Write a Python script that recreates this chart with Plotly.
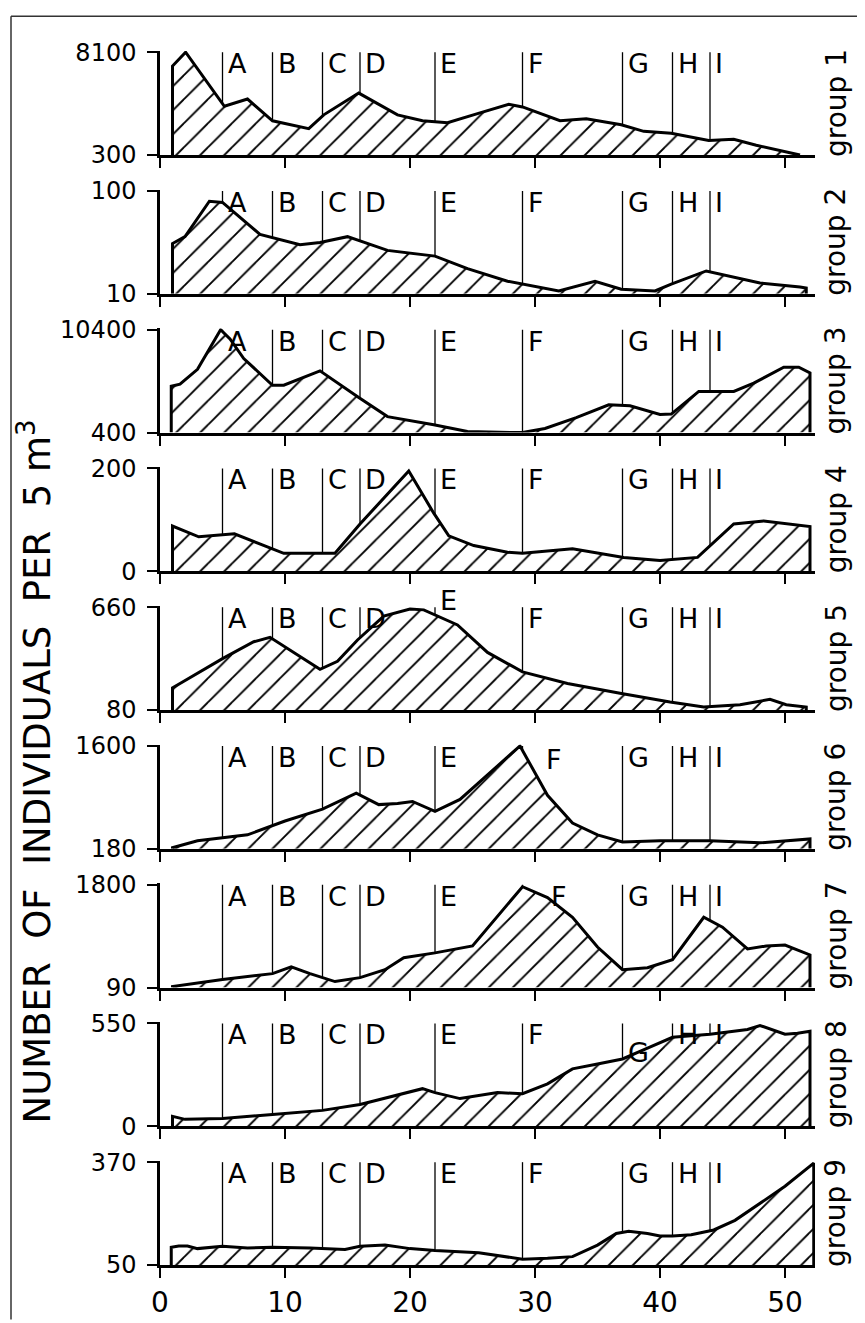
import numpy as np
import plotly.graph_objects as go

# ---------------- data ----------------
group_names = ["group 1", "group 2", "group 3", "group 4", "group 5",
               "group 6", "group 7", "group 8", "group 9"]
horizon_names = ["A", "B", "C", "D", "E", "F", "G", "H", "I"]
horizon_x = [5, 9, 13, 16, 22, 29, 37, 41, 44]
y_min = [300, 10, 400, 0, 80, 180, 90, 0, 50]
y_max = [8100, 100, 10400, 200, 660, 1600, 1800, 550, 370]
x_ticks = [0, 10, 20, 30, 40, 50]

g1_x = [1.0, 2.05, 5.15, 7.0, 9.0, 11.9, 13.1, 15.9, 19.0, 21.0, 23.0, 25.6, 27.9, 29.0,
        32.0, 34.1, 36.9, 38.7, 40.9, 43.9, 45.9, 47.7, 51.2]
g1_y = [7050, 8100, 4000, 4550, 2900, 2300, 3350, 5000, 3350, 2900, 2750, 3500, 4150, 3950,
        2900, 3050, 2600, 2100, 1950, 1400, 1500, 1050, 300]

g2_x = [1.0, 2.0, 3.95, 5.0, 8.0, 11.2, 12.8, 15.0, 18.2, 22.0, 24.6, 27.8, 29.0, 31.9,
        34.8, 36.9, 39.6, 40.9, 43.7, 48.0, 51.2, 51.7]
g2_y = [54, 60, 91, 90, 62, 53, 55, 60, 48, 43, 32, 21, 18.5, 12.5,
        21, 14, 12.5, 18.5, 30, 19.5, 16, 15]

g3_x = [0.9, 1.6, 3.0, 4.85, 5.6, 6.7, 9.0, 9.9, 12.8, 15.9, 18.2, 21.9, 24.6, 28.0, 29.0,
        30.8, 33.3, 35.9, 37.6, 40.0, 40.9, 43.1, 45.9, 47.5, 49.9, 51.1, 52.0]
g3_y = [4900, 5100, 6550, 10400, 9500, 7600, 5000, 5000, 6400, 3800, 1950, 1150, 500, 400, 400,
        800, 1850, 3100, 3000, 2150, 2200, 4400, 4400, 5200, 6750, 6750, 6200]

g4_x = [1.0, 3.1, 5.95, 9.9, 14.0, 16.0, 19.9, 21.9, 23.1, 25.1, 27.8, 29.0, 33.0, 37.1,
        40.0, 43.0, 45.9, 48.3, 52.0]
g4_y = [88, 67, 73, 35, 35, 92, 195, 113, 69, 50, 37, 35, 44, 27,
        21, 27, 92, 98, 87]

g5_x = [1.0, 1.6, 5.0, 7.5, 8.8, 12.8, 14.2, 15.8, 17.9, 20.0, 21.1, 23.8, 26.2, 29.0,
        32.6, 36.8, 40.8, 43.5, 46.4, 48.8, 50.1, 51.7]
g5_y = [205, 230, 370, 465, 490, 310, 355, 475, 610, 650, 645, 560, 405, 295,
        230, 175, 125, 97, 110, 140, 110, 97]

g6_x = [1.0, 3.0, 5.0, 7.0, 10.0, 13.0, 15.7, 17.5, 19.0, 20.2, 22.0, 24.0, 28.8, 31.0,
        33.0, 35.0, 37.0, 40.0, 44.0, 48.0, 52.0]
g6_y = [194, 290, 330, 372, 563, 727, 947, 790, 805, 833, 698, 862, 1600, 918,
        535, 372, 275, 290, 290, 262, 316]

g7_x = [1.0, 5.0, 9.0, 10.5, 12.0, 14.0, 16.0, 18.0, 19.5, 22.0, 25.0, 29.0, 31.0, 33.0,
        35.0, 37.0, 39.0, 41.0, 43.5, 45.0, 47.0, 48.5, 50.0, 52.0]
g7_y = [107, 222, 321, 432, 321, 189, 254, 386, 586, 666, 781, 1766, 1586, 1258,
        764, 386, 418, 552, 1258, 1094, 731, 781, 797, 632]

g8_x = [1.0, 2.0, 5.0, 9.0, 13.0, 16.0, 19.0, 21.0, 22.0, 24.0, 27.0, 29.0, 31.0, 33.0,
        35.0, 37.0, 39.0, 41.0, 44.0, 47.0, 48.0, 50.0, 51.0, 52.0]
g8_y = [53, 37, 42, 63, 85, 116, 165, 201, 180, 148, 180, 174, 227, 307,
        333, 360, 418, 476, 492, 518, 539, 492, 497, 508]

g9_x = [0.9, 1.5, 2.2, 3.0, 5.0, 7.0, 9.0, 12.0, 14.8, 16.0, 18.0, 20.0, 22.0, 25.5, 27.5,
        29.0, 31.0, 33.0, 35.0, 36.5, 37.5, 39.0, 40.0, 41.0, 42.5, 44.3, 46.0, 48.0, 50.0, 52.3]
g9_y = [105, 109, 109, 101, 108, 103, 105, 103, 98, 108, 112, 101, 95, 88, 76,
        68, 71, 76, 112, 148, 155, 148, 140, 140, 144, 159, 189, 242, 295, 367]

series_x = [g1_x, g2_x, g3_x, g4_x, g5_x, g6_x, g7_x, g8_x, g9_x]
series_y = [g1_y, g2_y, g3_y, g4_y, g5_y, g6_y, g7_y, g8_y, g9_y]

# ---------------- layout geometry ----------------
W, H = 865, 1323
ML, MR, MT, MB = 152, 58, 43, 55
PW, PH = W - ML - MR, H - MT - MB
PITCH, PANEL_H = 140, 105
XMAX = 52.4
FONT = "DejaVu Sans"

def paper_y(px):
    return 1 - (px - MT) / PH

def paper_x(px):
    return (px - ML) / PW

# letter label adjustments (panel index, letter) -> (dx in x units, dy in px)
label_adjust = {
    (4, "E"): (0.0, 18),
    (5, "F"): (1.5, -2),
    (6, "F"): (1.9, 0),
    (7, "G"): (0.0, -18),
}

fig = go.Figure()
layout = dict()
annotations = []
shapes = []

for i in range(9):
    top = MT + PITCH * i
    bot = top + PANEL_H
    sfx = "" if i == 0 else str(i + 1)
    xs, ys = series_x[i], series_y[i]
    lo, hi = y_min[i], y_max[i]
    poly_x = [xs[0]] + list(xs) + [xs[-1]]
    poly_y = [lo] + list(ys) + [lo]
    fig.add_trace(go.Scatter(
        x=poly_x, y=poly_y, xaxis="x" + sfx, yaxis="y" + sfx,
        mode="lines", fill="toself", fillcolor="white",
        fillpattern=dict(shape="/", size=17, solidity=0.11,
                         fgcolor="black", bgcolor="white", fgopacity=1),
        line=dict(color="black", width=3),
        hoverinfo="skip", showlegend=False))

    layout["xaxis" + sfx] = dict(
        domain=[0, 1], range=[0, XMAX], anchor="y" + sfx,
        showline=True, linecolor="black", linewidth=3,
        ticks="outside", ticklen=10, tickwidth=2, tickcolor="black",
        tickvals=x_ticks, showticklabels=(i == 8),
        tickfont=dict(family=FONT, size=28, color="black"),
        showgrid=False, zeroline=False, fixedrange=True)
    layout["yaxis" + sfx] = dict(
        domain=[paper_y(bot), paper_y(top)],
        range=[lo, hi + 0.012 * (hi - lo)], anchor="x" + sfx,
        showline=True, linecolor="black", linewidth=2.5,
        ticks="outside", ticklen=10, tickwidth=2, tickcolor="black",
        tickvals=[lo, hi], ticktext=[str(lo), str(hi)],
        tickfont=dict(family=FONT, size=24, color="black"),
        ticklabelstandoff=6,
        showgrid=False, zeroline=False, fixedrange=True)

    # horizon lines and letters
    for name, hx in zip(horizon_names, horizon_x):
        yc = float(np.interp(hx, xs, ys))
        shapes.append(dict(type="line", xref="x" + sfx, yref="y" + sfx,
                           x0=hx, x1=hx, y0=yc, y1=hi,
                           line=dict(color="black", width=1.3)))
        dx, dy = label_adjust.get((i, name), (0.0, 0))
        annotations.append(dict(
            text=name, xref="x" + sfx, yref="y" + sfx, x=hx + dx, y=hi,
            xanchor="left", yanchor="top", xshift=3, yshift=6 + dy,
            showarrow=False, font=dict(family=FONT, size=27, color="black")))

    # group label on the right
    annotations.append(dict(
        text=group_names[i], xref="paper", yref="paper",
        x=paper_x(828), y=paper_y((top + bot) / 2),
        xanchor="center", yanchor="middle", textangle=-90, showarrow=False,
        font=dict(family=FONT, size=28, color="black")))

# big y label
annotations.append(dict(
    text="NUMBER  OF  INDIVIDUALS  PER  5 m<sup>3</sup>", xref="paper", yref="paper",
    x=paper_x(27), y=paper_y(770), xanchor="center", yanchor="middle",
    textangle=-90, showarrow=False,
    font=dict(family=FONT, size=37, color="black")))

# figure frame (left and top edges)
shapes.append(dict(type="line", xref="paper", yref="paper",
                   x0=paper_x(3), x1=paper_x(3), y0=paper_y(8), y1=paper_y(H),
                   line=dict(color="#333333", width=1.5)))
shapes.append(dict(type="line", xref="paper", yref="paper",
                   x0=paper_x(3), x1=paper_x(W), y0=paper_y(8), y1=paper_y(8),
                   line=dict(color="#333333", width=1.5)))

fig.update_layout(
    width=W, height=H,
    margin=dict(l=ML, r=MR, t=MT, b=MB),
    paper_bgcolor="white", plot_bgcolor="white",
    annotations=annotations, shapes=shapes,
    **layout)

fig.write_html("out.html")
